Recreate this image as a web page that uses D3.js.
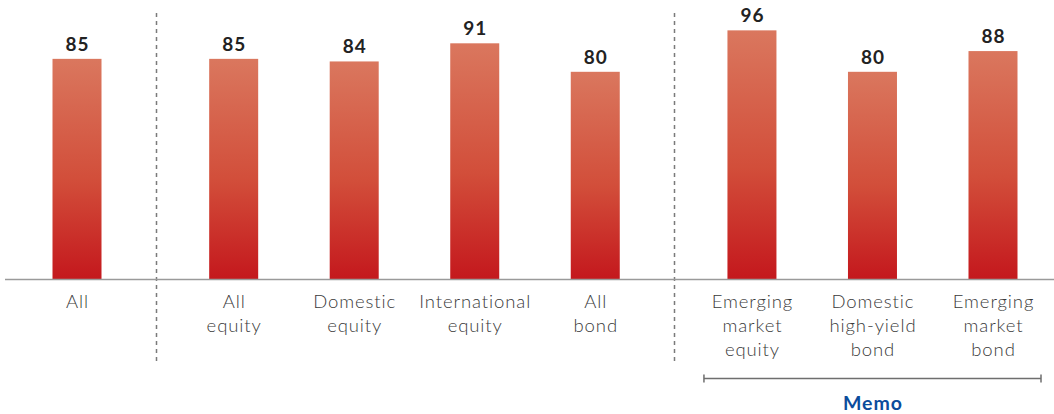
<!DOCTYPE html>
<html>
<head>
<meta charset="utf-8">
<script src="https://cdn.jsdelivr.net/npm/d3@7"></script>
<style>
  html, body { margin: 0; padding: 0; background: #fff; }
  svg { display: block; }
</style>
</head>
<body>
<svg id="chart" width="1054" height="414"></svg>
<script>
// Categories (line-broken labels), their group, and values
const categories = [
  ["All"],
  ["All", "equity"],
  ["Domestic", "equity"],
  ["International", "equity"],
  ["All", "bond"],
  ["Emerging", "market", "equity"],
  ["Domestic", "high-yield", "bond"],
  ["Emerging", "market", "bond"]
];
const groups = [0, 1, 1, 1, 1, 2, 2, 2];
const values = [85, 85, 84, 91, 80, 96, 80, 88];
const memoLabel = "Memo";

const svg = d3.select("#chart");
const W = 1054;
const baseY = 279;
const labelFont = "Lato, 'Open Sans', sans-serif";

// slot position: index plus extra spacing between groups
const slot = (i) => i + groups[i] * 0.3;
const x = d3.scaleLinear().domain([0, slot(values.length - 1)]).range([77, 993]);
const y = d3.scaleLinear().domain([0, 100]).range([baseY, 20]);
const barW = 49;

// bar gradient
const defs = svg.append("defs");
const grad = defs.append("linearGradient")
  .attr("id", "barGrad").attr("x1", 0).attr("y1", 0).attr("x2", 0).attr("y2", 1);
grad.append("stop").attr("offset", "0%").attr("stop-color", "#da775e");
grad.append("stop").attr("offset", "55%").attr("stop-color", "#d24e3a");
grad.append("stop").attr("offset", "100%").attr("stop-color", "#c4181d");

// group dividers
const dividerXs = [];
for (let i = 1; i < values.length; i++) {
  if (groups[i] !== groups[i - 1]) dividerXs.push((x(slot(i)) + x(slot(i - 1))) / 2 + (groups[i] === 1 ? 1 : 0));
}
svg.selectAll("line.divider").data(dividerXs).join("line")
  .attr("class", "divider")
  .attr("x1", d => Math.round(d) + 0.5).attr("x2", d => Math.round(d) + 0.5)
  .attr("y1", 13).attr("y2", 362)
  .attr("stroke", "#7a7a7a").attr("stroke-width", 1.5)
  .attr("stroke-dasharray", "4,4");

// bars
svg.selectAll("rect.bar").data(values).join("rect")
  .attr("class", "bar")
  .attr("x", (d, i) => x(slot(i)) - barW / 2)
  .attr("y", d => y(d))
  .attr("width", barW)
  .attr("height", d => baseY - y(d))
  .attr("fill", "url(#barGrad)");

// baseline
svg.append("line")
  .attr("x1", 5).attr("x2", W).attr("y1", baseY + 0.5).attr("y2", baseY + 0.5)
  .attr("stroke", "#9a9a9a").attr("stroke-width", 1.5);

// value labels
svg.selectAll("text.value").data(values).join("text")
  .attr("class", "value")
  .attr("x", (d, i) => x(slot(i)) + 0.5)
  .attr("y", d => y(d) - 8)
  .attr("text-anchor", "middle")
  .attr("font-family", labelFont)
  .attr("font-weight", 700)
  .attr("font-size", 19)
  .attr("letter-spacing", 1)
  .attr("fill", "#222")
  .text(d => d);

// category labels
const catG = svg.selectAll("text.cat").data(categories).join("text")
  .attr("class", "cat")
  .attr("x", (d, i) => x(slot(i)))
  .attr("y", 308)
  .attr("text-anchor", "middle")
  .attr("font-family", labelFont)
  .attr("font-weight", 300)
  .attr("font-size", 18.5)
  .attr("letter-spacing", 0.9)
  .attr("fill", "#3a3a3a");
catG.selectAll("tspan").data((d, i) => d.map(t => ({ t, i }))).join("tspan")
  .attr("x", d => x(slot(d.i)) + 0.5)
  .attr("dy", (d, j) => j === 0 ? 0 : 24)
  .text(d => d.t);

// memo bracket under the last group
const memoIdx = d3.range(values.length).filter(i => groups[i] === 2);
const bx1 = x(slot(memoIdx[0])) - 48;
const bx2 = x(slot(memoIdx[memoIdx.length - 1])) + 48;
const bY = 378.5;
const bracket = svg.append("g").attr("stroke", "#6e6e6e").attr("stroke-width", 1.5);
bracket.append("line").attr("x1", bx1).attr("x2", bx2).attr("y1", bY).attr("y2", bY);
bracket.append("line").attr("x1", bx1).attr("x2", bx1).attr("y1", bY - 4).attr("y2", bY + 4);
bracket.append("line").attr("x1", bx2).attr("x2", bx2).attr("y1", bY - 4).attr("y2", bY + 4);
svg.append("text")
  .attr("x", (bx1 + bx2) / 2 + 0.5)
  .attr("y", 410)
  .attr("text-anchor", "middle")
  .attr("font-family", labelFont)
  .attr("font-weight", 700)
  .attr("font-size", 19.5)
  .attr("letter-spacing", 1)
  .attr("fill", "#0b4c9c")
  .text(memoLabel);
</script>
</body>
</html>
